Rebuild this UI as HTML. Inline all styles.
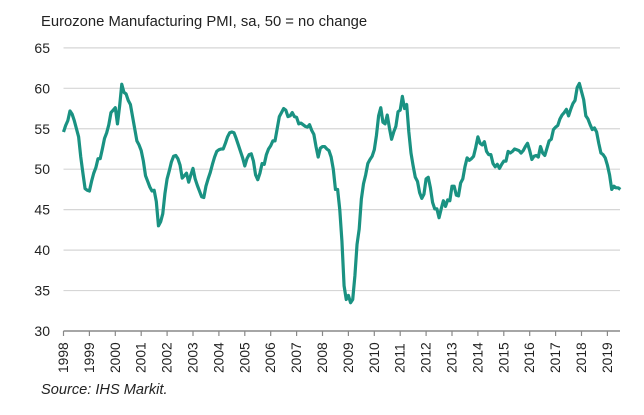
<!DOCTYPE html>
<html><head><meta charset="utf-8"><style>
body{margin:0;background:#fff;}
svg{display:block;font-family:"Liberation Sans",Arial,sans-serif;}
</style></head><body>
<svg id="chart" width="644" height="415">
<text x="41" y="26" font-size="14.8" fill="#222">Eurozone Manufacturing PMI, sa, 50 = no change</text>
<g id="grid"></g><g id="yticks"></g><g id="xticks"></g>
<path id="line" fill="none" stroke="#1a9282" stroke-width="3.2" stroke-linejoin="round"/>
<text x="41" y="394" font-size="14.6" font-style="italic" fill="#222">Source: IHS Markit.</text>
</svg>
<script>
const startYear = 1998;
const yTicks = [30,35,40,45,50,55,60,65];
const xYears = [1998,1999,2000,2001,2002,2003,2004,2005,2006,2007,2008,2009,2010,2011,2012,2013,2014,2015,2016,2017,2018,2019];
const pmi = [
54.6,55.4,56.0,57.2,56.8,56.0,55.0,54.0,51.5,49.5,47.6,47.4,
47.3,48.5,49.5,50.2,51.3,51.3,52.5,53.8,54.5,55.5,57.0,57.3,
57.6,55.6,57.8,60.5,59.5,59.3,58.5,58.0,56.5,55.0,53.5,53.0,
52.3,51.0,49.2,48.5,47.8,47.3,47.4,46.0,43.0,43.5,44.5,47.0,
48.8,49.8,50.9,51.6,51.7,51.3,50.5,48.9,49.2,49.5,48.4,49.3,
50.1,48.8,48.0,47.3,46.6,46.5,47.9,48.8,49.6,50.6,51.5,52.2,
52.4,52.5,52.5,53.2,54.0,54.5,54.6,54.5,53.8,53.0,52.2,51.4,
50.4,51.3,51.8,51.9,51.0,49.3,48.7,49.5,50.7,50.6,51.8,52.5,
52.9,53.5,53.5,55.0,56.5,57.0,57.5,57.3,56.5,56.6,57.0,56.5,
56.4,55.6,55.7,55.5,55.3,55.2,55.5,54.8,54.3,52.8,51.5,52.6,
52.8,52.8,52.5,52.3,51.5,50.0,47.5,47.5,45.0,41.1,35.6,33.9,
34.4,33.5,33.9,36.8,40.7,42.6,46.3,48.2,49.3,50.7,51.2,51.6,
52.4,54.2,56.6,57.6,55.8,55.6,56.7,55.1,53.7,54.6,55.3,57.1,
57.3,59.0,57.5,58.0,54.6,52.0,50.4,49.0,48.5,47.1,46.4,46.9,
48.8,49.0,47.7,45.9,45.1,45.1,44.0,45.1,46.1,45.4,46.2,46.1,
47.9,47.9,46.8,46.7,48.3,48.8,50.3,51.4,51.1,51.3,51.6,52.7,
54.0,53.2,53.0,53.4,52.2,51.8,51.8,50.7,50.3,50.6,50.1,50.6,
51.0,51.0,52.2,52.0,52.2,52.5,52.4,52.3,52.0,52.3,52.8,53.2,
52.3,51.2,51.6,51.7,51.5,52.8,52.0,51.7,52.6,53.5,53.7,54.9,
55.2,55.4,56.2,56.7,57.0,57.4,56.6,57.4,58.1,58.5,60.1,60.6,
59.6,58.6,56.6,56.2,55.5,54.9,55.1,54.6,53.2,52.0,51.8,51.4,
50.5,49.3,47.5,47.9,47.7,47.7,47.5
];
const X0=63.5, PXY=25.9, Y30=331, PXU=8.09, XR=620;
const xs = t => X0 + (t - startYear) * PXY;
const ys = v => Y30 - (v - 30) * PXU;
const NS="http://www.w3.org/2000/svg";
function mk(tag, attrs, parent){const e=document.createElementNS(NS,tag);for(const k in attrs)e.setAttribute(k,attrs[k]);parent.appendChild(e);return e;}
const grid=document.getElementById('grid'), yt=document.getElementById('yticks'), xt=document.getElementById('xticks');
yTicks.forEach(v=>{
  if(v>30){const l=mk('line',{x1:X0,x2:XR,y1:ys(v),y2:ys(v),stroke:'#d6d6d6','stroke-width':1.2},grid);
  
  }
  const t=mk('text',{x:50,y:ys(v)+5,'text-anchor':'end','font-size':14,fill:'#222'},yt);
  t.textContent=v;
  
  
});
const ax=mk('line',{x1:X0,x2:XR,y1:Y30,y2:Y30,stroke:'#888','stroke-width':1.5},xt);


xYears.forEach(y=>{
  const x=xs(y);
  mk('line',{x1:x,x2:x,y1:Y30,y2:Y30+5,stroke:'#888','stroke-width':1.2},xt);
  const t=mk('text',{transform:`translate(${x+4.5},${Y30+42}) rotate(-90)`,'font-size':13.8,fill:'#222'},xt);
  t.textContent=y;
  
  
});
let d='';
pmi.forEach((v,i)=>{d+=(i?'L':'M')+xs(startYear+i/12).toFixed(2)+','+ys(v).toFixed(2);});
document.getElementById('line').setAttribute('d',d);
</script>
</body></html>
